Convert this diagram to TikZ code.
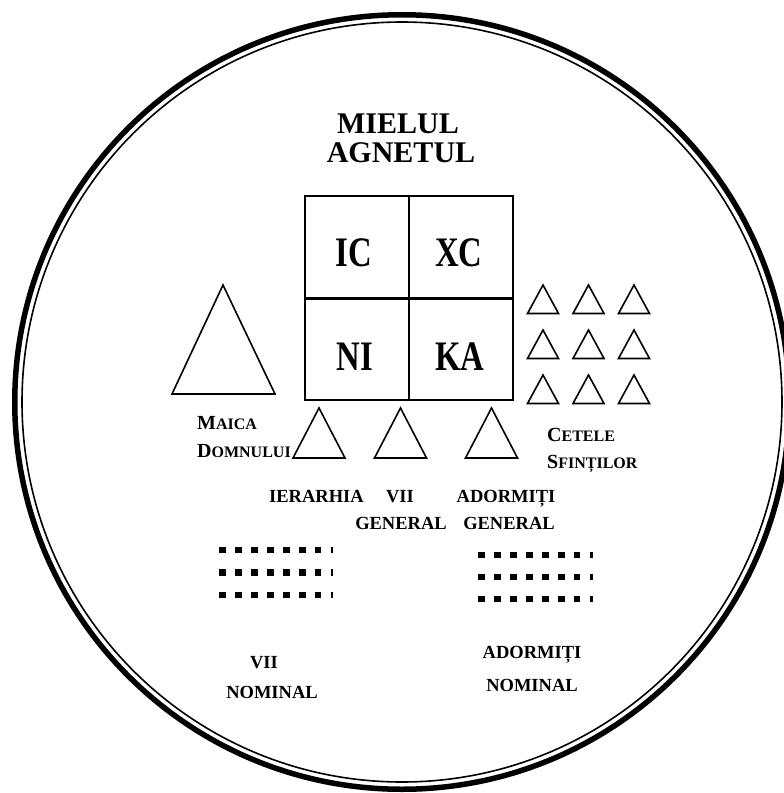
\documentclass[tikz,border=0pt]{standalone}
\usepackage{fontspec}
\setmainfont{Liberation Serif}
\newcommand\myscap[2]{{\fontsize{20}{24}\selectfont #1}{\fontsize{16}{24}\selectfont #2}}
\begin{document}
\begin{tikzpicture}[x=1pt,y=-1pt,
  tri/.style={draw, line width=1.6pt, line join=miter},
  dotrow/.style={line width=6.7pt, dash pattern=on 6.7pt off 9.2pt},
  ttl/.style={font=\bfseries\fontsize{30}{34}\selectfont, inner sep=0pt},
  glyph/.style={font=\bfseries\fontsize{42}{42}\selectfont, inner sep=0pt},
  lbl/.style={font=\bfseries\fontsize{18.5}{22}\selectfont, inner sep=0pt},
  sclbl/.style={font=\bfseries, inner sep=0pt}]
\useasboundingbox (0,0) rectangle (784,793);
\clip (0,0) rectangle (784,793);
% border
\draw[line width=5.5pt] (402,402) circle[radius=387.25pt];
\draw[line width=1.6pt] (402,402) circle[radius=380pt];
% title
\node[ttl, anchor=base] (mielul) at (398,133) {MIELUL};
\node[ttl, anchor=base] (agnetul) at (401,162) {AGNETUL};
% square
\draw[line width=2pt] (305,196) rectangle (513,400);
\draw[line width=2pt] (409,196) -- (409,400);
\draw[line width=3pt] (305,298.5) -- (513,298.5);
\node[glyph] (ic) at (354,253) {\scalebox{0.78}[1]{IC}};
\node[glyph] (xc) at (459,253) {\scalebox{0.78}[1]{XC}};
\node[glyph] (ni) at (355,357) {\scalebox{0.78}[1]{NI}};
\node[glyph] (ka) at (460,357) {\scalebox{0.78}[1]{KA}};
% big triangle
\draw[tri] (223,285) -- (172,394) -- (275,394) -- cycle;
% three small triangles
\foreach \cx in {319,400.5,491.5}
  \draw[tri] (\cx,408) -- (\cx-26,458) -- (\cx+26,458) -- cycle;
% nine triangles
\foreach \cx in {543,588.5,634}
  \foreach \ay in {285,330,375}
    \draw[tri] (\cx,\ay) -- (\cx-15.5,\ay+28.5) -- (\cx+15.5,\ay+28.5) -- cycle;
% labels
\node[sclbl, anchor=base west] (maica) at (197,429) {\myscap{M}{AICA}};
\node[sclbl, anchor=base west] (domnului) at (197,457) {\myscap{D}{OMNULUI}};
\node[sclbl, anchor=base west] (cetele) at (547,441) {\myscap{C}{ETELE}};
\node[sclbl, anchor=base west] (sfintilor) at (547,468) {\myscap{S}{FINȚILOR}};
\node[lbl, anchor=base west] (ierarhia) at (269,502) {IERARHIA};
\node[lbl, anchor=base] (vii) at (400,502) {VII};
\node[lbl, anchor=base] (vgen) at (401,529) {GENERAL};
\node[lbl, anchor=base] (adorm) at (506,502) {ADORMIȚI};
\node[lbl, anchor=base] (agen) at (509,529) {GENERAL};
% dotted rows
\foreach \yy in {550,572.5,595}
  \draw[dotrow] (219.3,\yy) -- (333.3,\yy);
\foreach \yy in {555,577,599}
  \draw[dotrow] (478.3,\yy) -- (593.3,\yy);
% bottom labels
\node[lbl, anchor=base] (viin) at (264,668) {VII};
\node[lbl, anchor=base] (nom1) at (272,698) {NOMINAL};
\node[lbl, anchor=base] (adormn) at (532,658) {ADORMIȚI};
\node[lbl, anchor=base] (nom2) at (532,691) {NOMINAL};
\end{tikzpicture}
\end{document}
